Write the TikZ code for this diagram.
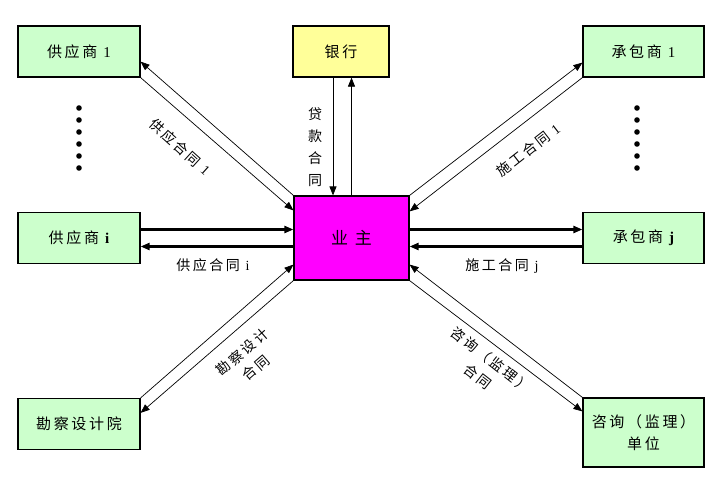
\documentclass[tikz,border=0pt]{standalone}
\usepackage{fontspec}
\setmainfont{Liberation Serif}
\newfontfamily\cjk[LetterSpace=18]{Noto Sans CJK SC}
\usepackage{tikz}
\usetikzlibrary{arrows.meta,positioning}
\definecolor{lgreen}{RGB}{204,255,204}
\definecolor{lyellow}{RGB}{255,255,153}
\definecolor{pmag}{RGB}{255,0,255}

\begin{document}
\begin{tikzpicture}[x=1pt,y=-1pt,
  blk/.style={draw,line width=1.2pt,fill=lgreen,minimum width=122pt,minimum height=51pt,align=center,inner sep=0pt,font={\cjk\fontsize{15}{22}\selectfont}},
  bnk/.style={blk,fill=lyellow,minimum width=96pt},
  own/.style={blk,fill=pmag,minimum width=115pt,minimum height=84pt,font={\cjk\fontsize{17}{20}\selectfont}},
  arr/.style={-{Triangle[length=9pt,width=7pt]},line width=0.7pt},
  harr/.style={arr,line width=2.2pt},
  lbl/.style={align=center,inner sep=0pt,font={\cjk\fontsize{14}{21}\selectfont}}]
  \useasboundingbox (0,0) rectangle (716,477);
  \node[blk] (s1) at (79,51.5) {供应商 {\rmfamily 1}};
  \node[blk] (si) at (79,238) {供应商 {\rmfamily\bfseries i}};
  \node[blk] (kc) at (79,424) {勘察设计院};
  \node[bnk] (bank) at (341,51.5) {银行};
  \node[own] (owner) at (351.5,238) {业 主};
  \node[blk,minimum width=121pt] (c1) at (643.5,51.5) {承包商 {\rmfamily 1}};
  \node[blk,minimum width=121pt] (cj) at (643.5,238) {承包商 {\rmfamily\bfseries j}};
  \node[blk,minimum width=121pt,minimum height=69pt] (zx) at (643.5,432.5) {咨询（监理）\\单位};
  % dots between the numbered parties
  \foreach \y in {108,120,132,144,156,168} {
    \fill (79,\y) circle (2.8pt);
    \fill (637,\y) circle (2.8pt);
  }
  % bank
  \draw[arr] ([xshift=-8pt]bank.south) -- ([xshift=-8pt]bank.south |- owner.north);
  \draw[arr] (owner.north) -- (owner.north |- bank.south);
  \node[lbl,font={\cjk\fontsize{14}{22}\selectfont}] (loan) at (315,147) {贷\\款\\合\\同};
  % suppliers
  \draw[arr] (owner.north west) -- ([yshift=16pt]s1.south east);
  \draw[arr] (s1.south east) -- ([yshift=-15pt]owner.north west);
  \node[lbl,rotate=-42] (sup1) at (180,147) {供应合同 {\rmfamily 1}};
  \draw[harr] ([yshift=8.5pt]si.east) -- ([yshift=8.5pt]si.east -| owner.west);
  \draw[harr] ([yshift=-8.5pt]owner.west) -- ([yshift=-8.5pt]owner.west -| si.east);
  \node[lbl] (supi) at (213,265) {供应合同 {\rmfamily i}};
  % contractors
  \draw[arr] (owner.north east) -- ([yshift=15pt]c1.south west);
  \draw[arr] (c1.south west) -- ([yshift=-16pt]owner.north east);
  \node[lbl,rotate=38] (con1) at (528,150) {施工合同 {\rmfamily 1}};
  \draw[harr] ([yshift=8.5pt]owner.east) -- ([yshift=8.5pt]owner.east -| cj.west);
  \draw[harr] ([yshift=-8.5pt]cj.west) -- ([yshift=-8.5pt]cj.west -| owner.east);
  \node[lbl] (conj) at (502,266) {施工合同 {\rmfamily j}};
  % design institute and consultant
  \draw[arr] (kc.north east) -- ([yshift=16pt]owner.south west);
  \draw[arr] (owner.south west) -- ([yshift=-15pt]kc.north east);
  \node[lbl,rotate=41] (des) at (249,360) {勘察设计\\合同};
  \draw[arr] (zx.north west) -- ([yshift=16pt]owner.south east);
  \draw[arr] (owner.south east) -- ([yshift=-14pt]zx.north west);
  \node[lbl,rotate=-38] (sv) at (484,368) {咨询（监理）\\合同};
\end{tikzpicture}
\end{document}
